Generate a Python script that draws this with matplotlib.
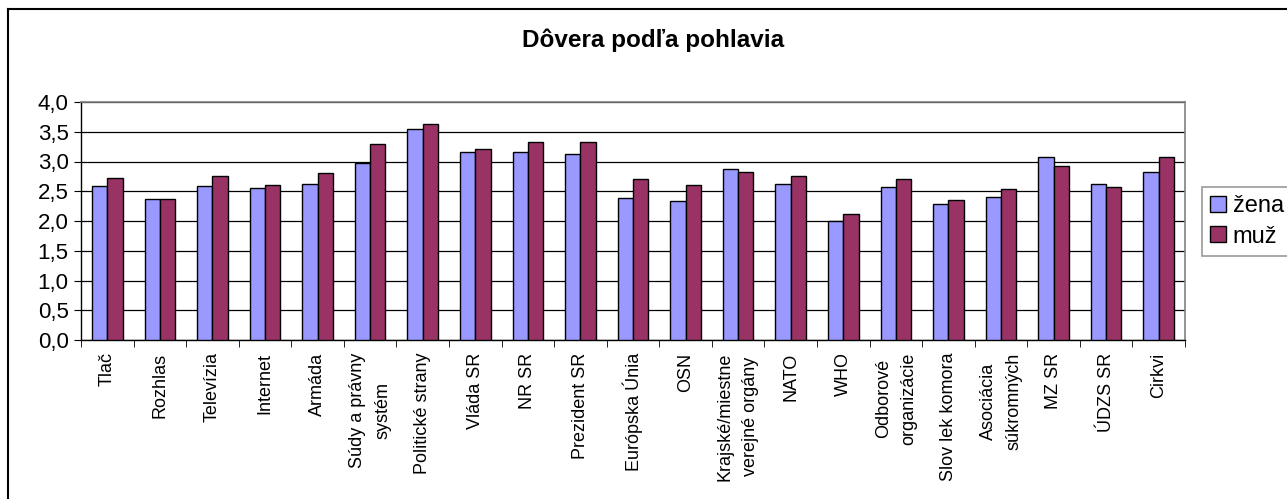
import numpy as np
import matplotlib
matplotlib.use('Agg')
import matplotlib.pyplot as plt
from matplotlib.lines import Line2D

plt.rcParams['font.family'] = ['Liberation Sans', 'DejaVu Sans']

categories = ['Tlač', 'Rozhlas', 'Televízia', 'Internet', 'Armáda',
              'Súdy a právny\nsystém', 'Politické strany', 'Vláda SR', 'NR SR',
              'Prezident SR', 'Európska Únia', 'OSN',
              'Krajské/miestne\nverejné orgány', 'NATO', 'WHO',
              'Odborové\norganizácie', 'Slov lek komora', 'Asociácia\nsúkromných',
              'MZ SR', 'ÚDZS SR', 'Cirkvi']
zena = [2.58, 2.37, 2.58, 2.56, 2.63, 2.97, 3.54, 3.16, 3.16, 3.12, 2.38,
        2.33, 2.88, 2.62, 2.00, 2.57, 2.29, 2.40, 3.07, 2.62, 2.83]
muz = [2.73, 2.37, 2.75, 2.61, 2.80, 3.30, 3.63, 3.21, 3.33, 3.33, 2.71,
       2.60, 2.83, 2.76, 2.12, 2.70, 2.36, 2.53, 2.93, 2.57, 3.07]
series_names = ['žena', 'muž']
yticks = [0.0, 0.5, 1.0, 1.5, 2.0, 2.5, 3.0, 3.5, 4.0]

W, H = 1287, 499
fig = plt.figure(figsize=(W / 100, H / 100), dpi=100)
ax = fig.add_axes([81 / W, 1 - 340 / H, (1185 - 81) / W, (340 - 102) / H])

x = np.arange(len(categories))
bw = 0.29
ax.bar(x - bw / 2, zena, bw, color='#9999FF', edgecolor='black', linewidth=1.0,
       label=series_names[0], zorder=3)
ax.bar(x + bw / 2, muz, bw, color='#993366', edgecolor='black', linewidth=1.0,
       label=series_names[1], zorder=3)

ax.set_xlim(-0.5, len(categories) - 0.5)
ax.set_ylim(0, 4.0)
ax.set_yticks(yticks)
ax.set_yticklabels([f'{v:.1f}'.replace('.', ',') for v in yticks], fontsize=16)
ax.yaxis.grid(True, color='black', linewidth=0.9, zorder=0)
ax.set_axisbelow(True)

ax.set_xticks(x)
ax.set_xticklabels(categories, rotation=90, fontsize=13, multialignment='center',
                   linespacing=1.65)
ax.set_xticks(np.arange(len(categories) + 1) - 0.5, minor=True)
ax.tick_params(axis='x', which='major', length=0, pad=9)
ax.tick_params(axis='x', which='minor', length=5, direction='out', color='black')
ax.tick_params(axis='y', length=5, direction='out', pad=4)

for s in ['top', 'right']:
    ax.spines[s].set_color('#808080')
    ax.spines[s].set_linewidth(1.2)
for s in ['left', 'bottom']:
    ax.spines[s].set_color('black')
    ax.spines[s].set_linewidth(1.0)

fig.text(653 / W, 1 - 40 / H, 'Dôvera podľa pohlavia', ha='center', va='center',
         fontsize=17.5, fontweight='bold')

leg = fig.legend(loc='upper left', bbox_to_anchor=(1202 / W, 1 - 187 / H),
                 fontsize=17, frameon=True, fancybox=False, borderpad=0.35,
                 handlelength=0.65, handleheight=0.65, handletextpad=0.3,
                 labelspacing=0.35, borderaxespad=0)
leg.get_frame().set_edgecolor('#808080')
leg.get_frame().set_linewidth(1.2)

# outer chart border (cropped at the right and bottom)
fig.add_artist(Line2D([8 / W, 8 / W], [1 - 9 / H, 0], transform=fig.transFigure,
                      color='black', linewidth=1.5))
fig.add_artist(Line2D([8 / W, 1], [1 - 9 / H, 1 - 9 / H], transform=fig.transFigure,
                      color='black', linewidth=1.5))

fig.savefig('out.png', dpi=100)
